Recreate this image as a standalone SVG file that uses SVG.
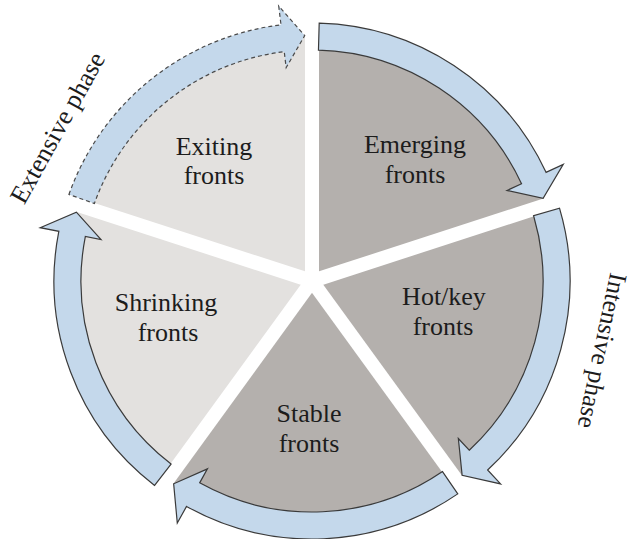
<svg xmlns="http://www.w3.org/2000/svg" xmlns:xlink="http://www.w3.org/1999/xlink" width="632" height="539" viewBox="0 0 632 539">
<style>
.dark{fill:#b4b0ad}
.light{fill:#e3e1df}
.gap{stroke:#ffffff;stroke-width:14;fill:none}
.arrow{fill:#c4d8eb;stroke:#3a3a3a;stroke-width:1.2;stroke-linejoin:miter}
.dashed{stroke:#4a4a4a;stroke-dasharray:4 3}
.lbl{font-family:"Liberation Serif","Times New Roman",serif;font-size:26px;fill:#1c1c1c;text-anchor:middle}
</style>
<defs>
<path id="arr" d="M319.20,23.10 A258,258 0 0,1 546.02,172.37 L563.25,164.37 L543.13,198.24 L507.01,190.48 L521.53,183.74 A231,231 0 0,0 318.45,50.09 Z"/>
</defs>
<rect width="632" height="539" fill="#ffffff"/>
<g id="emerging">
<path class="dark" d="M312,281 L312,35 A246,246 0 0,1 545.96,204.98 Z"/>
<text class="lbl" x="415" y="153">Emerging</text>
<text class="lbl" x="415" y="183">fronts</text>
</g>
<g id="hotkey">
<path class="dark" d="M312,281 L545.96,204.98 A246,246 0 0,1 456.60,480.02 Z"/>
<text class="lbl" x="444" y="305">Hot/key</text>
<text class="lbl" x="443" y="335">fronts</text>
</g>
<g id="stable">
<path class="dark" d="M312,281 L456.60,480.02 A246,246 0 0,1 167.40,480.02 Z"/>
<text class="lbl" x="309" y="422">Stable</text>
<text class="lbl" x="309" y="452">fronts</text>
</g>
<g id="shrinking">
<path class="light" d="M312,281 L167.40,480.02 A246,246 0 0,1 78.04,204.98 Z"/>
<text class="lbl" x="166" y="311">Shrinking</text>
<text class="lbl" x="168" y="341">fronts</text>
</g>
<g id="exiting">
<path class="light" d="M312,281 L78.04,204.98 A246,246 0 0,1 312,35 Z"/>
<text class="lbl" x="214" y="155">Exiting</text>
<text class="lbl" x="214" y="184">fronts</text>
</g>
<g id="gaps">
<line class="gap" x1="312" y1="281" x2="312" y2="20"/>
<line class="gap" x1="312" y1="281" x2="560.22" y2="200.35"/>
<line class="gap" x1="312" y1="281" x2="465.41" y2="492.16"/>
<line class="gap" x1="312" y1="281" x2="158.59" y2="492.16"/>
<line class="gap" x1="312" y1="281" x2="63.78" y2="200.35"/>
</g>
<g id="connectors">
<use xlink:href="#arr" href="#arr" class="arrow"/>
<use xlink:href="#arr" href="#arr" class="arrow" transform="rotate(72 312 281)"/>
<use xlink:href="#arr" href="#arr" class="arrow" transform="rotate(144 312 281)"/>
<use xlink:href="#arr" href="#arr" class="arrow" transform="rotate(216 312 281)"/>
<use xlink:href="#arr" href="#arr" class="arrow dashed" transform="rotate(288 312 281)"/>
</g>
<g id="phases">
<text class="lbl" transform="translate(65,132) rotate(-61)" x="0" y="0">Extensive phase</text>
<text class="lbl" transform="translate(594,349) rotate(102)" x="0" y="0" style="font-size:25.5px">Intensive phase</text>
</g>
</svg>
